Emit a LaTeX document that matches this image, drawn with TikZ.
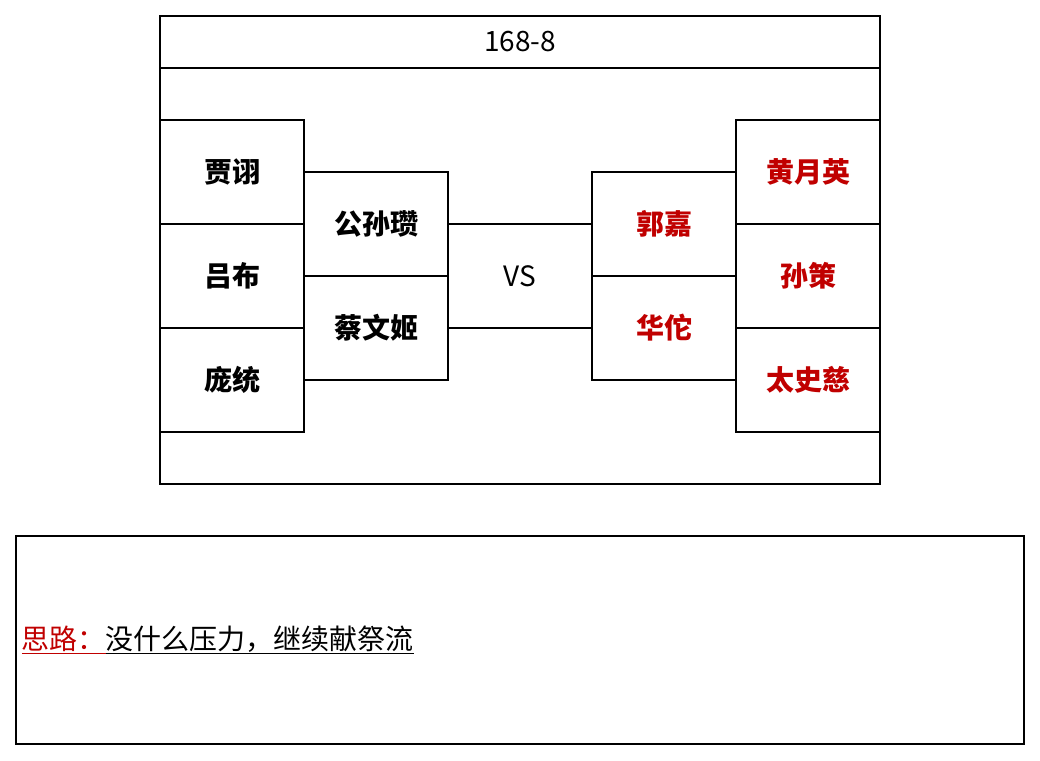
\documentclass[tikz,border=0pt]{standalone}
\usepackage{fontspec}
\setmainfont{Noto Sans CJK SC}
\usepackage{xcolor}
\usetikzlibrary{positioning}
\definecolor{namered}{RGB}{192,0,0}

\begin{document}
\begin{tikzpicture}[x=1pt, y=-1pt, line width=1.6pt, font=\fontsize{28}{32}\selectfont]
		\tikzstyle{cell} = [draw=black, rectangle, minimum width=144pt, minimum height=104pt, inner sep=0pt, font=\fontsize{28}{32}\selectfont\bfseries]
		\tikzstyle{cellr} = [cell, text=namered]
		\tikzstyle{plain} = [draw=black, rectangle, inner sep=0pt]
		
		\useasboundingbox (0, 0) rectangle (1040, 760);
		
		\node[plain, minimum width=720pt, minimum height=468pt]	at (520, 250)	(frame)	{};
		\node[plain, minimum width=720pt, minimum height=52pt]	at (520, 42)	(title)	{168-8};
		
		\node[cell]		at (232, 172)	(p1)	{贾诩};
		\node[cell]		at (232, 276)	(p2)	{吕布};
		\node[cell]		at (232, 380)	(p3)	{庞统};
		\node[cell]		at (376, 224)	(m1)	{公孙瓒};
		\node[cell]		at (376, 328)	(m2)	{蔡文姬};
		
		\node[cellr]	at (664, 224)	(n1)	{郭嘉};
		\node[cellr]	at (664, 328)	(n2)	{华佗};
		\node[cellr]	at (808, 172)	(q1)	{黄月英};
		\node[cellr]	at (808, 276)	(q2)	{孙策};
		\node[cellr]	at (808, 380)	(q3)	{太史慈};
		
		\node			at (520, 276)	(vs)	{VS};
		
		\draw (m1.east) -- (n1.west);
		\draw (m2.east) -- (n2.west);
		
		\node[plain, minimum width=1008pt, minimum height=208pt]	at (520, 640)	(note)	{};
		\node[anchor=west, inner sep=0pt]	at (21, 640)	(idea)	{{\color{namered}\underline{思路：}}\underline{没什么压力，继续献祭流}};
		
	\end{tikzpicture}
\end{document}
